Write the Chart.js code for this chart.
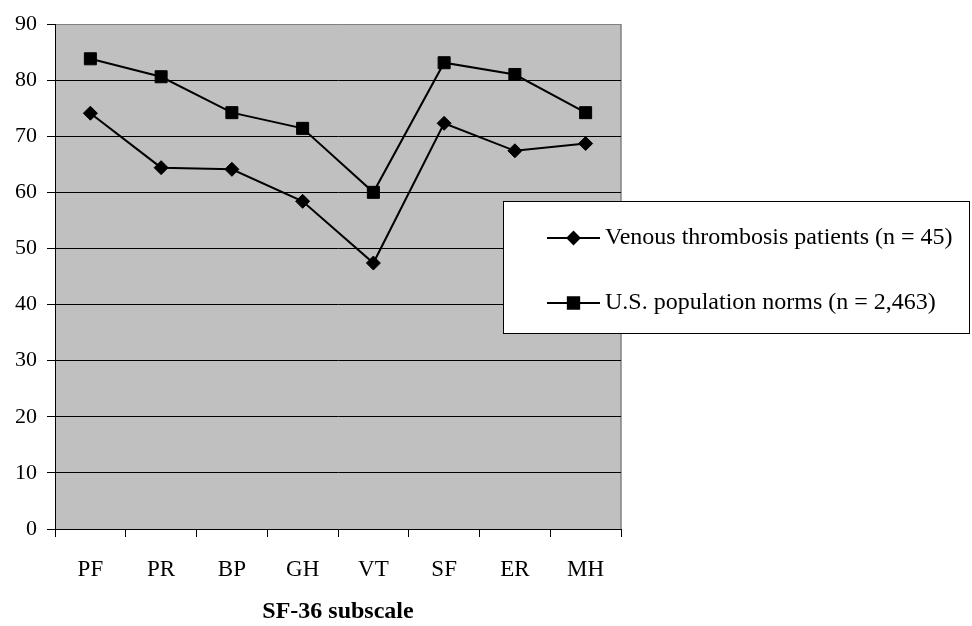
<!DOCTYPE html>
<html>
<head>
<meta charset="utf-8">
<script src="https://cdn.jsdelivr.net/npm/chart.js@4"></script>
<style>
  html, body { margin: 0; padding: 0; background: #fff; }
  #wrap { width: 972px; height: 626px; }
</style>
</head>
<body>
<div id="wrap"><canvas id="sfChart" width="972" height="626"></canvas></div>
<script>
// SF-36 subscales
const subscales = ["PF", "PR", "BP", "GH", "VT", "SF", "ER", "MH"];

// Gemiddelde scores per groep
const patientScores = [74.1, 64.4, 64.1, 58.4, 47.4, 72.3, 67.4, 68.7];
const normScores = [83.8, 80.6, 74.2, 71.4, 60.0, 83.1, 81.0, 74.2];

const seriesLabels = [
  "Venous thrombosis patients (n = 45)",
  "U.S. population norms (n = 2,463)"
];

const yTicks = [0, 10, 20, 30, 40, 50, 60, 70, 80, 90];

const serif = "'Liberation Serif', 'Times New Roman', serif";

// Grijze achtergrond van het plotgebied
const plotBackground = {
  id: "plotBackground",
  beforeDraw(chart) {
    const { ctx, chartArea: a } = chart;
    ctx.save();
    ctx.fillStyle = "#C0C0C0";
    ctx.fillRect(a.left, a.top, a.right - a.left, a.bottom - a.top);
    ctx.strokeStyle = "#808080";
    ctx.lineWidth = 1.5;
    ctx.beginPath();
    ctx.moveTo(a.right, a.top);
    ctx.lineTo(a.right, a.bottom);
    ctx.stroke();
    ctx.restore();
  }
};

// Legenda in een wit kader dat over de grafiek valt
const boxLegend = {
  id: "boxLegend",
  afterDraw(chart) {
    const ctx = chart.ctx;
    ctx.save();
    ctx.fillStyle = "#fff";
    ctx.fillRect(503.5, 201.5, 466, 132);
    ctx.strokeStyle = "#000";
    ctx.lineWidth = 1;
    ctx.strokeRect(503.5, 201.5, 466, 132);

    const rows = [238, 303];
    chart.data.datasets.forEach((ds, i) => {
      const y = rows[i];
      ctx.strokeStyle = "#000";
      ctx.lineWidth = 2;
      ctx.beginPath();
      ctx.moveTo(547, y);
      ctx.lineTo(600, y);
      ctx.stroke();
      Chart.helpers.drawPoint(ctx, {
        pointStyle: ds.pointStyle,
        radius: ds.pointStyle === "rect" ? 8 : 6,
        rotation: 0,
        borderWidth: 1
      }, 573.5, y);
      ctx.fillStyle = "#000";
      ctx.fill();
      ctx.font = "24px " + serif;
      ctx.textBaseline = "middle";
      ctx.textAlign = "left";
      ctx.fillText(ds.label, 605, y);
    });
    ctx.restore();
  }
};

const ctx = document.getElementById("sfChart").getContext("2d");

new Chart(ctx, {
  type: "line",
  data: {
    labels: subscales,
    datasets: [
      {
        label: seriesLabels[0],
        data: patientScores,
        borderColor: "#000",
        borderWidth: 2,
        pointStyle: "rectRot",
        pointRadius: 7,
        pointBackgroundColor: "#000",
        pointBorderColor: "#000",
        pointBorderWidth: 1,
        tension: 0
      },
      {
        label: seriesLabels[1],
        data: normScores,
        borderColor: "#000",
        borderWidth: 2,
        pointStyle: "rect",
        pointRadius: 8.5,
        pointBackgroundColor: "#000",
        pointBorderColor: "#000",
        pointBorderWidth: 1,
        tension: 0
      }
    ]
  },
  options: {
    responsive: false,
    animation: false,
    layout: { padding: { top: 24, right: 351, left: 0, bottom: 0 } },
    plugins: {
      legend: { display: false },
      tooltip: { enabled: false }
    },
    scales: {
      x: {
        offset: true,
        grid: {
          offset: true,
          drawOnChartArea: false,
          drawTicks: true,
          tickLength: 8,
          tickColor: "#000"
        },
        border: { color: "#000", width: 1 },
        ticks: {
          color: "#000",
          padding: 19,
          font: { family: serif, size: 23 }
        },
        title: {
          display: true,
          text: "SF-36 subscale",
          color: "#000",
          padding: { top: 0, bottom: 0 },
          font: { family: serif, size: 24, weight: "bold" }
        },
        afterFit(scale) { scale.height = 97; }
      },
      y: {
        min: 0,
        max: 90,
        afterBuildTicks(scale) {
          scale.ticks = yTicks.map(v => ({ value: v }));
        },
        grid: {
          color: c => (c.tick && c.tick.value === 90 ? "#808080" : "#000"),
          tickColor: "#000",
          tickLength: 8,
          lineWidth: 1
        },
        border: { color: "#000", width: 1 },
        ticks: {
          color: "#000",
          padding: 10,
          font: { family: serif, size: 22 }
        },
        afterFit(scale) { scale.width = 55; }
      }
    }
  },
  plugins: [plotBackground, boxLegend]
});
</script>
</body>
</html>
